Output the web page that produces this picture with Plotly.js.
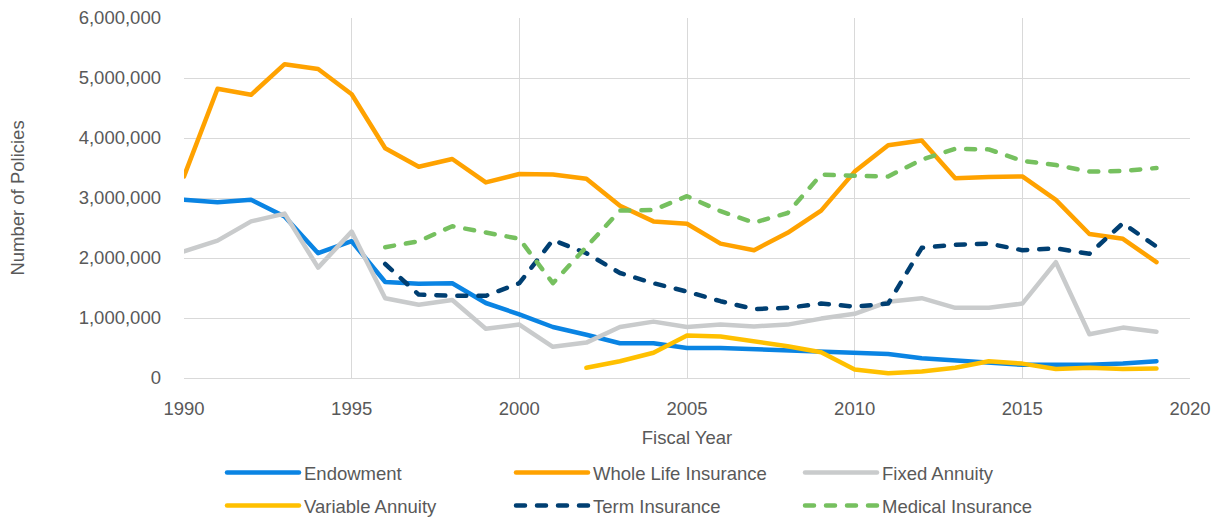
<!DOCTYPE html>
<html>
<head>
<meta charset="utf-8">
<script src="https://cdn.plot.ly/plotly-3.0.1.min.js"></script>
<style>
html,body{margin:0;padding:0;background:#fff;}
#chart{width:1221px;height:517px;}
.scatterlayer path.js-line, .legendlines path{stroke-linecap:round;stroke-linejoin:round;}
</style>
</head>
<body>
<div id="chart"></div>
<script>
const years = [1990,1991,1992,1993,1994,1995,1996,1997,1998,1999,2000,2001,2002,2003,2004,2005,2006,2007,2008,2009,2010,2011,2012,2013,2014,2015,2016,2017,2018,2019];

const endowment = [2970000,2930000,2970000,2690000,2080000,2280000,1600000,1570000,1580000,1250000,1060000,850000,720000,580000,580000,500000,500000,480000,460000,430000,410000,400000,330000,290000,250000,220000,220000,220000,240000,280000];

const wholeLife = [3360000,4820000,4720000,5230000,5150000,4730000,3830000,3520000,3650000,3260000,3400000,3390000,3320000,2870000,2610000,2570000,2240000,2130000,2420000,2790000,3440000,3880000,3960000,3330000,3350000,3360000,2970000,2400000,2320000,1930000];

const fixedAnnuity = [2110000,2290000,2610000,2740000,1840000,2440000,1330000,1220000,1300000,820000,890000,520000,590000,850000,940000,850000,890000,860000,890000,990000,1070000,1270000,1330000,1170000,1170000,1240000,1930000,730000,840000,770000];

const variableAnnuity = [null,null,null,null,null,null,null,null,null,null,null,null,170000,280000,420000,710000,690000,610000,530000,430000,140000,80000,110000,170000,280000,240000,150000,170000,150000,160000];

const termInsurance = [null,null,null,null,null,null,1900000,1390000,1370000,1370000,1580000,2300000,2080000,1750000,1580000,1440000,1280000,1150000,1170000,1240000,1190000,1240000,2170000,2220000,2240000,2130000,2160000,2070000,2580000,2190000];

const medicalInsurance = [null,null,null,null,null,null,2180000,2280000,2530000,2430000,2320000,1580000,2190000,2790000,2800000,3030000,2780000,2590000,2750000,3390000,3370000,3360000,3640000,3820000,3810000,3620000,3550000,3440000,3450000,3500000];

const seriesNames = ["Endowment","Whole Life Insurance","Fixed Annuity","Variable Annuity","Term Insurance","Medical Insurance"];
const yTickVals = [0,1000000,2000000,3000000,4000000,5000000,6000000];
const yTickText = ["0","1,000,000","2,000,000","3,000,000","4,000,000","5,000,000","6,000,000"];
const xTickVals = [1990,1995,2000,2005,2010,2015,2020];

const FONT = "Liberation Sans, Arial, sans-serif";
const TXT = "#595959";
const W = 4.5;

function tr(name, y, color, dash, legend){
  return {
    type:"scatter", mode:"lines", x:years, y:y, name:name,
    line:{color:color, width:W, dash:dash||"solid"},
    connectgaps:false, hoverinfo:"skip", legend:legend
  };
}

const data = [
  tr(seriesNames[0], endowment, "#0A84E3", null, "legend"),
  tr(seriesNames[1], wholeLife, "#FFA200", null, "legend"),
  tr(seriesNames[2], fixedAnnuity, "#C9CBCC", null, "legend"),
  tr(seriesNames[3], variableAnnuity, "#FFC000", null, "legend2"),
  tr(seriesNames[4], termInsurance, "#003F72", "9px,12px", "legend2"),
  tr(seriesNames[5], medicalInsurance, "#76C05F", "9px,12px", "legend2")
];

const PW = 1006, PH = 360;
const legendCommon = {
  orientation:"h", xref:"paper", yref:"paper", xanchor:"left", yanchor:"middle",
  entrywidth:202, entrywidthmode:"pixels", itemwidth:72,
  font:{family:FONT, size:18.5, color:TXT}, bgcolor:"rgba(0,0,0,0)",
  itemclick:false, itemdoubleclick:false
};

const layout = {
  width:1221, height:517,
  margin:{l:184, r:31, t:18, b:139, autoexpand:false},
  paper_bgcolor:"#fff", plot_bgcolor:"#fff",
  font:{family:FONT, size:18.5, color:TXT},
  showlegend:true,
  xaxis:{
    range:[1990,2020], tickvals:xTickVals, ticktext:xTickVals.map(String),
    showgrid:true, gridcolor:"#D9D9D9", gridwidth:1,
    zeroline:false, showline:true, linecolor:"#D9D9D9", linewidth:1,
    ticks:"", ticklabelstandoff:14,
    tickfont:{family:FONT, size:18.5, color:TXT},
    title:{text:"Fiscal Year", font:{family:FONT, size:18.5, color:TXT}, standoff:12},
    fixedrange:true
  },
  yaxis:{
    range:[0,6000000], tickvals:yTickVals, ticktext:yTickText,
    showgrid:true, gridcolor:"#D9D9D9", gridwidth:1,
    zeroline:false, showline:false,
    ticks:"", ticklabelstandoff:22,
    tickfont:{family:FONT, size:18.5, color:TXT},
    title:{text:"Number of Policies", font:{family:FONT, size:18.5, color:TXT}, standoff:49},
    fixedrange:true
  },
  legend: Object.assign({}, legendCommon, {x:(222-184)/PW, y:-(473-378)/PH}),
  legend2: Object.assign({}, legendCommon, {x:(222-184)/PW, y:-(506-378)/PH})
};

Plotly.newPlot("chart", data, layout, {staticPlot:true, displayModeBar:false});
</script>
</body>
</html>
